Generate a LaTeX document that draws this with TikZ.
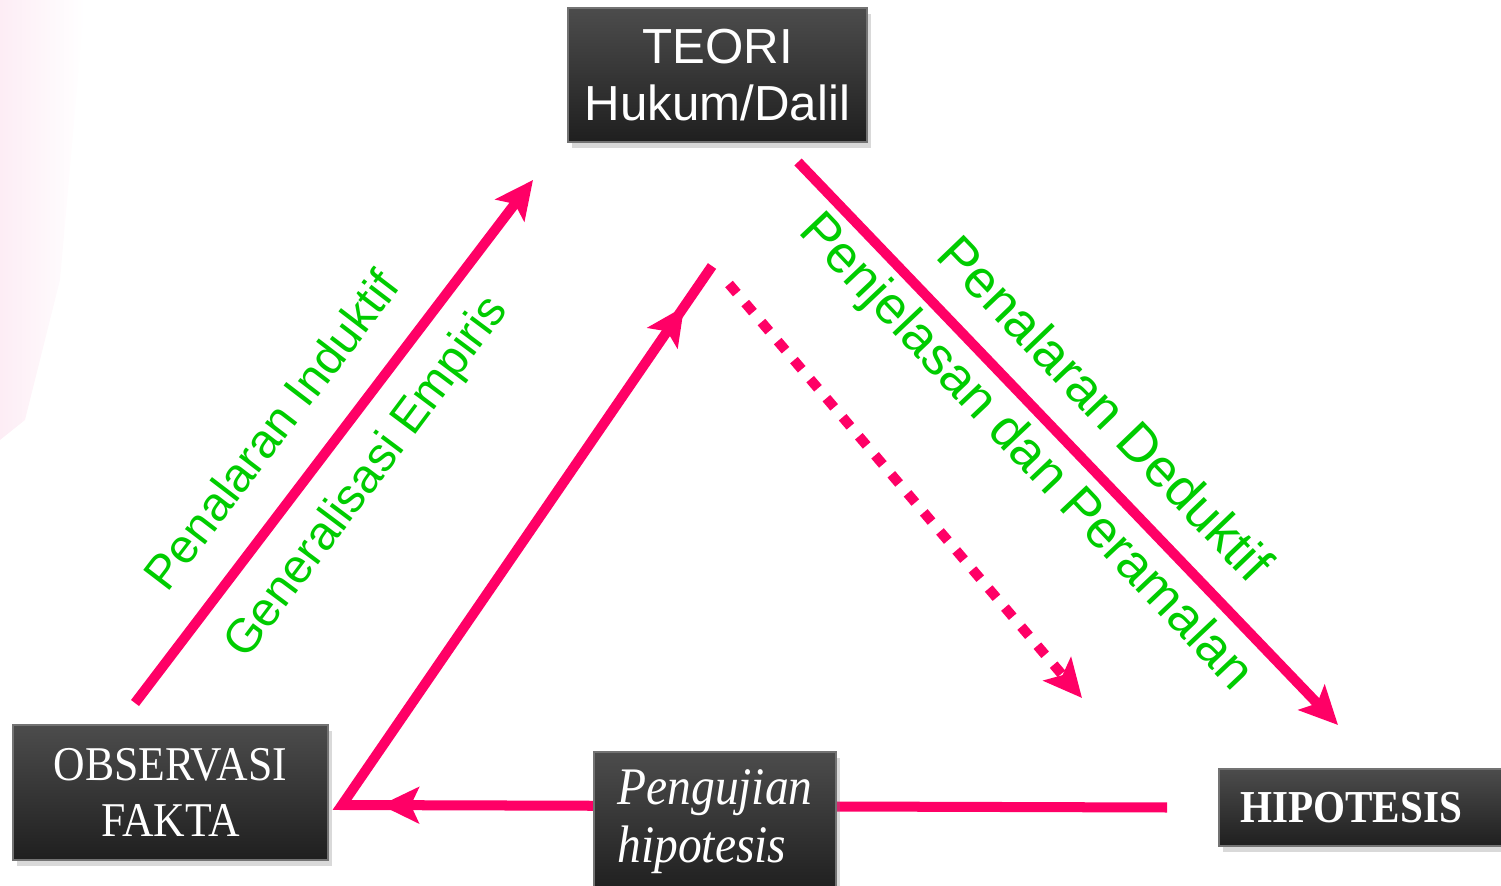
\documentclass[tikz,border=0pt]{standalone}
\usepackage{fontspec}
\setmainfont{Liberation Sans}
\newfontfamily\boxserif[FakeStretch=0.9]{Liberation Serif}
\usetikzlibrary{arrows.meta,decorations.markings,shadows,backgrounds}
\definecolor{arrowpink}{HTML}{FF0066}
\definecolor{labelgreen}{HTML}{00CC00}
\definecolor{boxtop}{HTML}{4C4C4C}
\definecolor{boxbottom}{HTML}{1F1F1F}
\definecolor{washpink}{HTML}{FDEDF5}
\tikzset{bigtip/.tip={Stealth[length=0.38cm,width=0.36cm,inset=0.08cm]}}

\begin{document}
\begin{tikzpicture}[x=0.01cm,y=-0.01cm,
    darkbox/.style={rectangle,top color=boxtop,bottom color=boxbottom,
      draw=black!55,line width=0.4pt,text=white,
      drop shadow={shadow xshift=0.04cm,shadow yshift=-0.06cm,opacity=0.3}},
    pinkline/.style={draw=arrowpink,line width=0.1cm},
    greenlabel/.style={text=labelgreen,inner sep=0pt}]
  \useasboundingbox (0,0) rectangle (1501,886);

  \node[darkbox,align=center,minimum width=2.99cm,minimum height=1.34cm,
    font=\fontsize{14pt}{16.2pt}\selectfont] (teori) at (717.5,75) {TEORI\\Hukum/Dalil};
  \node[darkbox,align=center,minimum width=3.15cm,minimum height=1.35cm,
    font=\boxserif\fontsize{13.8pt}{16pt}\selectfont] (obs) at (170.5,792.5) {OBSERVASI\\FAKTA};
  \node[darkbox,align=left,minimum width=2.42cm,minimum height=1.4cm,
    font=\boxserif\itshape\fontsize{15pt}{16.5pt}\selectfont] (uji) at (715,822) {Pengujian\\hipotesis};
  \node[darkbox,minimum width=3cm,minimum height=0.77cm,
    font=\boxserif\bfseries\fontsize{13pt}{15pt}\selectfont] (hip) at (1369,807.5) {HIPOTESIS\hspace*{0.36cm}};

  \coordinate (indStart) at (135,703);
  \coordinate (indEnd) at (533,180);
  \coordinate (dedStart) at (798,162);
  \coordinate (dedEnd) at (1338,725);
  \coordinate (ujiStart) at ([xshift=-0.51cm]hip.west);
  \coordinate (corner) at (342,805);
  \coordinate (peak) at (712,266);
  \coordinate (dotStart) at (729,284);
  \coordinate (dotEnd) at (1082,698);

  \begin{scope}[on background layer]
    \shade[left color=washpink,right color=white] (0,0) -- (85,0) -- (60,280) -- (25,420) -- (0,440) -- cycle;
    \draw[pinkline,-bigtip] (indStart) -- (indEnd);
    \draw[pinkline,-bigtip] (dedStart) -- (dedEnd);
    \draw[pinkline,postaction={decorate},decoration={markings,
      mark=at position 7.86cm with {\arrow{bigtip}},
      mark=at position 14.29cm with {\arrow{bigtip}}}] (ujiStart) -- (corner) -- (peak);
    \draw[pinkline,dash pattern=on 0.12cm off 0.13cm,-bigtip] (dotStart) -- (dotEnd);
  \end{scope}

  \node[greenlabel,rotate=52.6,font=\fontsize{13.6pt}{16pt}\selectfont] (induktif) at (271,430) {Penalaran Induktif};
  \node[greenlabel,rotate=53.2,font=\fontsize{13.6pt}{16pt}\selectfont] (empiris) at (368,478) {Generalisasi Empiris};
  \node[greenlabel,rotate=-46.2,font=\fontsize{15.2pt}{18pt}\selectfont] (deduktif) at (1106,408) {Penalaran Deduktif};
  \node[greenlabel,rotate=-46.6,font=\fontsize{15pt}{18pt}\selectfont] (ramalan) at (1025,453) {Penjelasan dan Peramalan};
\end{tikzpicture}
\end{document}
